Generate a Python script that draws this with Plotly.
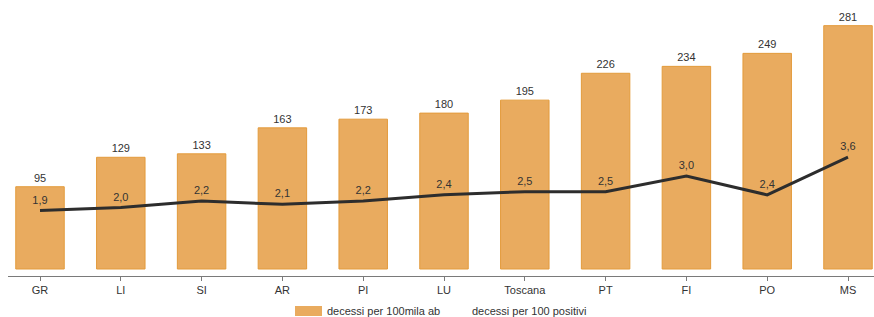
import plotly.graph_objects as go

categories = ["GR", "LI", "SI", "AR", "PI", "LU", "Toscana", "PT", "FI", "PO", "MS"]
deaths_per_100k = [95, 129, 133, 163, 173, 180, 195, 226, 234, 249, 281]
deaths_per_100_pos = [1.9, 2.0, 2.2, 2.1, 2.2, 2.4, 2.5, 2.5, 3.0, 2.4, 3.6]
bar_name = "decessi per 100mila ab"
line_name = "decessi per 100 positivi"

W, H = 874, 317
ml, mr, mt, mb = 8, 0, 5, 41
pw, ph = W - ml - mr, H - mt - mb

font = "Liberation Sans, Arial, sans-serif"
txt = "#333333"

fig = go.Figure()
fig.add_trace(go.Bar(
    x=categories, y=deaths_per_100k, name=bar_name,
    marker=dict(color="#E9AB5F", line=dict(color="#E39B3C", width=1)),
    width=0.6,
    text=deaths_per_100k, textposition="outside", texttemplate="%{y}",
    textfont=dict(size=11, color=txt, family=font),
    cliponaxis=False, showlegend=False, yaxis="y",
))
fig.add_trace(go.Scatter(
    x=categories, y=deaths_per_100_pos, name=line_name,
    mode="lines+markers+text", line=dict(color="#2d2d2d", width=3),
    marker=dict(size=5, color="rgba(0,0,0,0)"),
    texttemplate="%{y:.1f}", textposition="top center",
    textfont=dict(size=11, color=txt, family=font),
    cliponaxis=False, showlegend=False, yaxis="y2",
))

pxu = 80.8
x0 = -32 / pxu
x1 = x0 + pw / pxu

bottom_px = H - mb
top_px = mt
s1 = 0.866
base1 = 269
y1_range = [-(bottom_px - base1) / s1, (base1 - top_px) / s1]
s2 = 31.4
base2 = 270.2
y2_range = [-(bottom_px - base2) / s2, (base2 - top_px) / s2]

fig.update_layout(
    width=W, height=H,
    margin=dict(l=ml, r=mr, t=mt, b=mb, pad=0, autoexpand=False),
    paper_bgcolor="white", plot_bgcolor="white",
    separators=",.",
    font=dict(family=font, size=11, color=txt),
    bargap=0.4,
    hovermode=False,
    xaxis=dict(
        type="category", range=[x0, x1],
        showline=True, linecolor="#7a7a7a", linewidth=1,
        ticks="outside", ticklen=4, tickcolor="#7a7a7a", tickwidth=1,
        showgrid=False, zeroline=False,
        tickfont=dict(size=11, color=txt, family=font),
    ),
    yaxis=dict(range=y1_range, visible=False, showgrid=False, zeroline=False),
    yaxis2=dict(range=y2_range, visible=False, overlaying="y", showgrid=False, zeroline=False),
)

fig.add_shape(type="rect", xref="paper", yref="paper",
              x0=(295 - ml) / pw, x1=(322 - ml) / pw,
              y0=(bottom_px - 316) / ph, y1=(bottom_px - 306) / ph,
              fillcolor="#E9AB5F", line=dict(color="#E9AB5F", width=0))
fig.add_annotation(xref="paper", yref="paper",
                   x=(325 - ml) / pw, y=(bottom_px - 311) / ph,
                   xanchor="left", yanchor="middle", showarrow=False,
                   text=bar_name, font=dict(size=11, color=txt, family=font))
fig.add_annotation(xref="paper", yref="paper",
                   x=(470 - ml) / pw, y=(bottom_px - 311) / ph,
                   xanchor="left", yanchor="middle", showarrow=False,
                   text=line_name, font=dict(size=11, color=txt, family=font))

fig.write_html(
    "out.html",
    config={"displayModeBar": False},
    post_script="document.body.style.margin='0';document.body.style.padding='0';",
)
